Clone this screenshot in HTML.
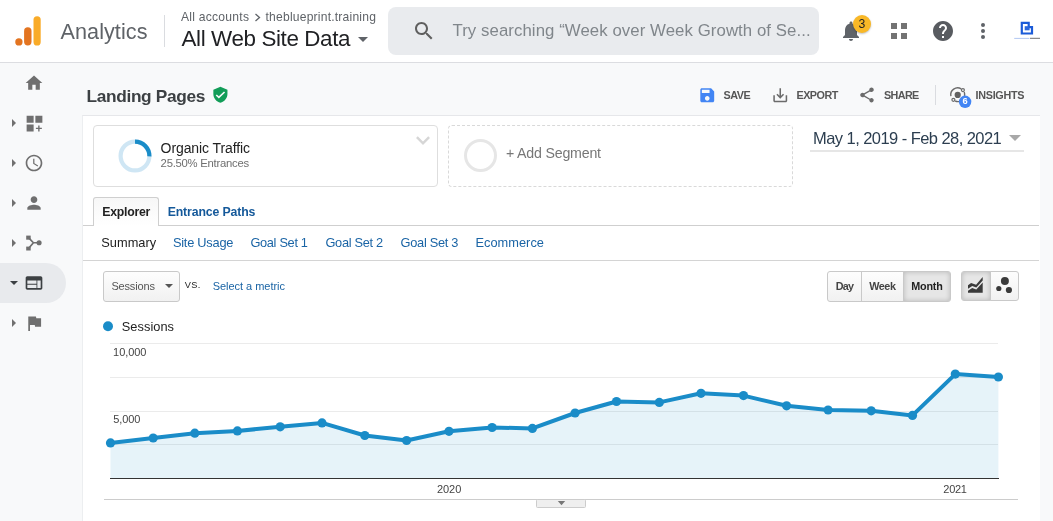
<!DOCTYPE html>
<html><head><meta charset="utf-8">
<style>
*{box-sizing:border-box;margin:0;padding:0}
html,body{width:1053px;height:521px;overflow:hidden;background:#f8f9fa;font-family:"Liberation Sans",sans-serif;}
.abs{position:absolute}
#hdr{position:absolute;left:0;top:0;width:1053px;height:63px;background:#fff;border-bottom:1px solid #dcdde1}
#main{position:absolute;left:82px;top:115px;width:957.5px;height:406px;background:#fff;border-top:1px solid #e6e7ea;border-left:1px solid #eceef0}
.t{position:absolute;white-space:nowrap;line-height:1}
.btn{position:absolute;border:1px solid #c9c9c9;background:linear-gradient(#fdfdfd,#f1f1f1)}
</style></head><body>
<div id="hdr"></div>
<svg class="abs" style="left:0;top:0" width="60" height="60" viewBox="0 0 60 60">
  <rect x="33.5" y="16.2" width="7.2" height="29.3" rx="3.6" fill="#f9ab28"/>
  <rect x="24.1" y="27.3" width="7.4" height="18.2" rx="3.7" fill="#e37420"/>
  <circle cx="18.9" cy="41.9" r="3.65" fill="#e37420"/>
</svg>
<div class="abs" style="left:164px;top:15px;width:1px;height:32px;background:#dadce0"></div>
<svg class="abs" style="left:253.5px;top:12.5px" width="8" height="9" viewBox="0 0 8 9"><path d="M1.5 1L5.5 4.5L1.5 8" stroke="#5f6368" stroke-width="1.3" fill="none"/></svg>
<div class="abs" style="left:358px;top:37px;width:0;height:0;border-left:5px solid transparent;border-right:5px solid transparent;border-top:5px solid #5f6368"></div>
<div class="abs" style="left:388px;top:7px;width:431px;height:48px;border-radius:8px;background:#e9ebee"></div>
<svg class="abs" style="left:412.4px;top:18.8px" width="24" height="24" viewBox="0 0 24 24"><path d="M15.5 14h-.79l-.28-.27C15.41 12.59 16 11.11 16 9.5 16 5.91 13.09 3 9.5 3S3 5.91 3 9.5 5.91 16 9.5 16c1.61 0 3.09-.59 4.23-1.57l.27.28v.79l5 4.99L20.49 19l-4.99-5zm-6 0C7.01 14 5 11.99 5 9.5S7.01 5 9.5 5 14 7.01 14 9.5 11.99 14 9.5 14z" fill="#5f5f5f"/></svg>
<svg class="abs" style="left:839px;top:19px" width="24" height="24" viewBox="0 0 24 24"><path d="M12 22c1.1 0 2-.9 2-2h-4c0 1.1.89 2 2 2zm6-6v-5c0-3.07-1.64-5.64-4.5-6.32V4c0-.83-.67-1.5-1.5-1.5s-1.5.67-1.5 1.5v.68C7.63 5.36 6 7.92 6 11v5l-2 2v1h16v-1l-2-2z" fill="#5f6368"/></svg>
<div class="abs" style="left:852.8px;top:14.8px;width:18.4px;height:18.4px;border-radius:50%;background:#f9b827;box-shadow:0 1px 2px rgba(0,0,0,.25)"></div>
<svg class="abs" style="left:891px;top:23px" width="16" height="16" shape-rendering="crispEdges" viewBox="0 0 16 16"><path d="M0 0h6v6H0zM10 0h6v6h-6zM0 10h6v6H0zM10 10h6v6h-6z" fill="#737373"/></svg>
<svg class="abs" style="left:931px;top:19px" width="24" height="24" viewBox="0 0 24 24"><path d="M12 2C6.48 2 2 6.48 2 12s4.48 10 10 10 10-4.48 10-10S17.52 2 12 2zm1 17h-2v-2h2v2zm2.07-7.75l-.9.92C13.45 12.9 13 13.5 13 15h-2v-.5c0-1.1.45-2.1 1.17-2.83l1.24-1.26c.37-.36.59-.86.59-1.41 0-1.1-.9-2-2-2s-2 .9-2 2H8c0-2.21 1.79-4 4-4s4 1.79 4 4c0 .88-.36 1.68-.93 2.25z" fill="#585b60"/></svg>
<svg class="abs" style="left:980px;top:22px" width="6" height="18" viewBox="0 0 6 18"><circle cx="3" cy="3" r="2" fill="#5f6368"/><circle cx="3" cy="9" r="2" fill="#5f6368"/><circle cx="3" cy="15" r="2" fill="#5f6368"/></svg>
<svg class="abs" style="left:1005px;top:12px" width="45" height="38" viewBox="1005 12 45 38"><path d="M1021.8 22.95H1028.7V27.2H1032V33.5H1021.8Z" fill="none" stroke="#1b5bd8" stroke-width="2.2"/><rect x="1024.7" y="26.2" width="4.9" height="4.1" fill="#2a66dc"/><rect x="1014.2" y="37.9" width="15.2" height="0.9" fill="#2a66dc" opacity=".4"/><rect x="1030" y="37.8" width="10" height="1" fill="#111" opacity=".6"/></svg>
<svg class="abs" style="left:24px;top:72.5px" width="20" height="20" viewBox="0 0 24 24"><path d="M10 20v-6h4v6h5v-8h3L12 3 2 12h3v8z" fill="#6f6f6f"/></svg><div class="abs" style="left:12px;top:118.8px;width:0;height:0;border-top:4.2px solid transparent;border-bottom:4.2px solid transparent;border-left:4.4px solid #707070"></div><svg class="abs" style="left:23.5px;top:112.8px" width="21" height="21" viewBox="0 0 24 24"><path d="M3 3h8v8H3zm10 0h8v8h-8zM3 13h8v8H3zm14.8 1.2h-1.6v2.6h-2.6v1.6h2.6v2.6h1.6v-2.6h2.6v-1.6h-2.6z" fill="#6f6f6f"/></svg><div class="abs" style="left:12px;top:158.8px;width:0;height:0;border-top:4.2px solid transparent;border-bottom:4.2px solid transparent;border-left:4.4px solid #707070"></div><svg class="abs" style="left:24px;top:153px" width="20" height="20" viewBox="0 0 24 24"><path d="M11.99 2C6.47 2 2 6.48 2 12s4.47 10 9.99 10C17.52 22 22 17.52 22 12S17.52 2 11.99 2zM12 20c-4.42 0-8-3.58-8-8s3.58-8 8-8 8 3.58 8 8-3.58 8-8 8zm.5-13H11v6l5.25 3.15.75-1.23-4.5-2.67z" fill="#6f6f6f"/></svg><div class="abs" style="left:12px;top:198.8px;width:0;height:0;border-top:4.2px solid transparent;border-bottom:4.2px solid transparent;border-left:4.4px solid #707070"></div><svg class="abs" style="left:24px;top:192.5px" width="20" height="20" viewBox="0 0 24 24"><path d="M12 12c2.21 0 4-1.79 4-4s-1.79-4-4-4-4 1.79-4 4 1.79 4 4 4zm0 2c-2.67 0-8 1.34-8 4v2h16v-2c0-2.66-5.33-4-8-4z" fill="#6f6f6f"/></svg><div class="abs" style="left:12px;top:238.8px;width:0;height:0;border-top:4.2px solid transparent;border-bottom:4.2px solid transparent;border-left:4.4px solid #707070"></div><svg class="abs" style="left:20px;top:230px" width="30" height="26" viewBox="20 230 30 26"><path d="M28.5 237.6L33.4 242.75L28.5 248.5M33.4 242.75H39" stroke="#6f6f6f" stroke-width="1.7" fill="none"/><rect x="26.2" y="235.6" width="4.5" height="4.1" fill="#6f6f6f"/><rect x="26.2" y="246.6" width="4.5" height="3.9" fill="#6f6f6f"/><circle cx="39.1" cy="242.75" r="2.55" fill="#6f6f6f"/></svg><div class="abs" style="left:0;top:263px;width:66px;height:40px;background:#e8eaed;border-radius:0 20px 20px 0"></div><div class="abs" style="left:9.7px;top:281.2px;width:0;height:0;border-left:4.3px solid transparent;border-right:4.3px solid transparent;border-top:4.5px solid #3c4043"></div><svg class="abs" style="left:24px;top:273px" width="20" height="20" viewBox="0 0 24 24"><path d="M20 4H4c-1.1 0-1.99.9-1.99 2L2 18c0 1.1.9 2 2 2h16c1.1 0 2-.9 2-2V6c0-1.1-.9-2-2-2zm-5 14H4v-4h11v4zm0-5H4V9h11v4zm5 5h-4V9h4v9z" fill="#3c4043"/></svg><div class="abs" style="left:12px;top:318.8px;width:0;height:0;border-top:4.2px solid transparent;border-bottom:4.2px solid transparent;border-left:4.4px solid #707070"></div><svg class="abs" style="left:23.8px;top:312.7px" width="20.5" height="20.5" viewBox="0 0 24 24"><path d="M14.4 6L14 4H5v17h2v-7h5.6l.4 2h7V6z" fill="#6f6f6f"/></svg>
<div id="main"></div>
<svg class="abs" style="left:211.2px;top:86px" width="18.8" height="17.5" viewBox="0 0 24 24" preserveAspectRatio="none"><path d="M12 1L3 5v6c0 5.55 3.84 10.74 9 12 5.16-1.26 9-6.45 9-12V5l-9-4zm-2 16l-4-4 1.41-1.41L10 14.17l6.59-6.59L18 9l-8 8z" fill="#129d58"/></svg>
<svg class="abs" style="left:697.8px;top:85.7px" width="18.5" height="18.5" viewBox="0 0 24 24"><path d="M17 3H5c-1.11 0-2 .9-2 2v14c0 1.1.89 2 2 2h14c1.1 0 2-.9 2-2V7l-4-4zm-5 16c-1.66 0-3-1.34-3-3s1.34-3 3-3 3 1.34 3 3-1.34 3-3 3zm3-10H5V5h10v4z" fill="#4285f4"/></svg>
<svg class="abs" style="left:770.7px;top:85.7px" width="18.5" height="18.5" viewBox="0 0 24 24"><path d="M19 12v7H5v-7H3v7c0 1.1.9 2 2 2h14c1.1 0 2-.9 2-2v-7h-2zm-6 .67l2.59-2.58L17 11.5l-5 5-5-5 1.41-1.41L11 12.67V3h2z" fill="#6b6b6b"/></svg>
<svg class="abs" style="left:857.9px;top:85.9px" width="18" height="18" viewBox="0 0 24 24"><path d="M18 16.08c-.76 0-1.44.3-1.96.77L8.91 12.7c.05-.23.09-.46.09-.7s-.04-.47-.09-.7l7.05-4.11c.54.5 1.25.81 2.04.81 1.66 0 3-1.34 3-3s-1.34-3-3-3-3 1.34-3 3c0 .24.04.47.09.7L8.04 9.81C7.5 9.31 6.79 9 6 9c-1.66 0-3 1.34-3 3s1.34 3 3 3c.79 0 1.5-.31 2.04-.81l7.12 4.16c-.05.21-.08.43-.08.65 0 1.61 1.31 2.92 2.92 2.92 1.61 0 2.92-1.31 2.92-2.92s-1.31-2.92-2.92-2.92z" fill="#6b6b6b"/></svg>
<div class="abs" style="left:935px;top:85px;width:1px;height:20px;background:#dadce0"></div>
<svg class="abs" style="left:940px;top:78px" width="45" height="34" viewBox="940 78 45 34"><path d="M950.9 96.2A6.9 6.9 0 0 1 961.2 88.9" fill="none" stroke="#6b6b6b" stroke-width="1.4"/><path d="M964.2 92A6.9 6.9 0 0 1 964.5 96" fill="none" stroke="#6b6b6b" stroke-width="1.4"/><path d="M955.2 101A6.9 6.9 0 0 0 960 101.3" fill="none" stroke="#6b6b6b" stroke-width="1.4"/><circle cx="957.7" cy="94.9" r="3.1" fill="#616161"/><circle cx="962.9" cy="90.1" r="1.5" fill="#f8f9fa" stroke="#6b6b6b" stroke-width="1.2"/><circle cx="953.4" cy="99.8" r="1.5" fill="#f8f9fa" stroke="#6b6b6b" stroke-width="1.2"/><circle cx="965.1" cy="101.8" r="6.2" fill="#4285f4"/></svg>

<div class="abs" style="left:93px;top:125px;width:345px;height:62px;border:1px solid #dedede;border-radius:4px;background:#fff"></div>
<svg class="abs" style="left:118px;top:139px" width="34" height="34" viewBox="0 0 34 34"><circle cx="17" cy="17" r="14.4" fill="none" stroke="#cfe6f4" stroke-width="4.2"/><path d="M17 2.6A14.4 14.4 0 0 1 31.4 17.4" fill="none" stroke="#1a8cc8" stroke-width="4.2"/></svg>
<svg class="abs" style="left:415px;top:135px" width="16" height="11" viewBox="0 0 16 11"><path d="M1.9 2.2L8 8.3L14.1 2.2" stroke="#d6d6d6" stroke-width="2.5" fill="none"/></svg>
<div class="abs" style="left:448px;top:125px;width:345px;height:62px;border:1px dashed #d9d9d9;border-radius:4px;background:#fff"></div>
<div class="abs" style="left:464.3px;top:139.3px;width:33.2px;height:33.2px;border-radius:50%;border:3.7px solid #e6e6e6"></div>
<div class="abs" style="left:810px;top:150px;width:214px;height:1.5px;background:#e6e6e6"></div>
<div class="abs" style="left:1009px;top:135px;width:0;height:0;border-left:6px solid transparent;border-right:6px solid transparent;border-top:6px solid #a8a8a8"></div>

<div class="abs" style="left:83px;top:225px;width:956px;height:1px;background:#cfcfcf"></div>
<div class="abs" style="left:93px;top:197px;width:66px;height:29px;border:1px solid #cfcfcf;border-bottom:none;border-radius:3px 3px 0 0;background:linear-gradient(#f7f7f7,#fff)"></div>
<div class="abs" style="left:83px;top:260px;width:956px;height:1px;background:#d4d4d4"></div>

<div class="btn" style="left:103px;top:271px;width:77px;height:31px;border-radius:3px"></div>
<div class="abs" style="left:164.8px;top:284px;width:0;height:0;border-left:4px solid transparent;border-right:4px solid transparent;border-top:4.4px solid #555"></div>

<div class="btn" style="left:827px;top:271px;width:35px;height:31px;border-radius:3px 0 0 3px"></div>
<div class="btn" style="left:861px;top:271px;width:43px;height:31px"></div>
<div class="btn" style="left:903px;top:271px;width:48px;height:31px;border-radius:0 3px 3px 0;background:#e6e6e6;box-shadow:inset 0 0 5px rgba(0,0,0,.2)"></div>
<div class="btn" style="left:961px;top:271px;width:30px;height:29.6px;border-radius:3px 0 0 3px;background:#e6e6e6;box-shadow:inset 0 0 5px rgba(0,0,0,.2)"></div>
<div class="btn" style="left:990px;top:271px;width:29px;height:29.6px;border-radius:0 3px 3px 0"></div>
<svg class="abs" style="left:958px;top:268px" width="64" height="36" viewBox="958 268 64 36"><path d="M968 285.3L971.1 282.9L976.1 284.8L982.7 277V280.6L976.3 287.6L972.2 286.1L968 288.8Z" fill="#3a3a3a"/><path d="M968 290.8L972.2 287.9L976.3 289.4L982.7 282.6V292.7H968Z" fill="#3a3a3a"/><circle cx="1004.9" cy="280.9" r="4" fill="#3a3a3a"/><circle cx="998.8" cy="288.5" r="2.6" fill="#3a3a3a"/><circle cx="1008.9" cy="290" r="3.1" fill="#3a3a3a"/></svg>

<svg class="abs" style="left:0;top:0" width="1053" height="521" viewBox="0 0 1053 521">
  <g stroke="#ebebeb" stroke-width="1" shape-rendering="crispEdges">
    <line x1="110" x2="998" y1="343.5" y2="343.5"/><line x1="110" x2="998" y1="377.5" y2="377.5"/><line x1="110" x2="998" y1="411.5" y2="411.5"/><line x1="110" x2="998" y1="444.5" y2="444.5"/>
  </g>
  <path d="M110.5,478 L110.5,442.9 L153.2,438.0 L194.8,433.2 L237.4,430.9 L280.2,426.8 L322.0,422.9 L364.8,435.5 L406.6,440.5 L449,431.3 L492.1,427.5 L532.4,428.4 L575.1,413.0 L616.5,401.5 L659.3,402.4 L701.0,393.3 L743.5,395.6 L786.6,405.8 L828.1,410.0 L871.2,410.8 L912.5,415.4 L955.3,374.1 L998.4,377.0 L998.4,478 Z" fill="#058dc7" fill-opacity="0.1"/>
  <line x1="110" x2="998.5" y1="478.5" y2="478.5" stroke="#333" stroke-width="1" shape-rendering="crispEdges"/>
  <polyline points="110.5,442.9 153.2,438.0 194.8,433.2 237.4,430.9 280.2,426.8 322.0,422.9 364.8,435.5 406.6,440.5 449,431.3 492.1,427.5 532.4,428.4 575.1,413.0 616.5,401.5 659.3,402.4 701.0,393.3 743.5,395.6 786.6,405.8 828.1,410.0 871.2,410.8 912.5,415.4 955.3,374.1 998.4,377.0" fill="none" stroke="#1a8cc8" stroke-width="4" stroke-linejoin="round"/>
  <g fill="#1a8cc8"><circle cx="110.5" cy="442.9" r="4.6"/><circle cx="153.2" cy="438.0" r="4.6"/><circle cx="194.8" cy="433.2" r="4.6"/><circle cx="237.4" cy="430.9" r="4.6"/><circle cx="280.2" cy="426.8" r="4.6"/><circle cx="322.0" cy="422.9" r="4.6"/><circle cx="364.8" cy="435.5" r="4.6"/><circle cx="406.6" cy="440.5" r="4.6"/><circle cx="449" cy="431.3" r="4.6"/><circle cx="492.1" cy="427.5" r="4.6"/><circle cx="532.4" cy="428.4" r="4.6"/><circle cx="575.1" cy="413.0" r="4.6"/><circle cx="616.5" cy="401.5" r="4.6"/><circle cx="659.3" cy="402.4" r="4.6"/><circle cx="701.0" cy="393.3" r="4.6"/><circle cx="743.5" cy="395.6" r="4.6"/><circle cx="786.6" cy="405.8" r="4.6"/><circle cx="828.1" cy="410.0" r="4.6"/><circle cx="871.2" cy="410.8" r="4.6"/><circle cx="912.5" cy="415.4" r="4.6"/><circle cx="955.3" cy="374.1" r="4.6"/><circle cx="998.4" cy="377.0" r="4.6"/></g>
  <circle cx="108" cy="326.2" r="5" fill="#1a8cc8"/>
  <line x1="104" x2="1018" y1="499.5" y2="499.5" stroke="#cccccc" stroke-width="1" shape-rendering="crispEdges"/>
  <rect x="536.5" y="499.5" width="49" height="8" rx="1" fill="#efefef" stroke="#cccccc" stroke-width="1"/>
  <path d="M557.8 501h7.4l-3.7 4.3z" fill="#777"/>
</svg>
<div style="position:absolute;left:0;top:0;width:1053px;height:521px;will-change:transform">
<div class="t" style="left:60.5px;top:21.2px;font-size:21.6px;color:#5f6368;letter-spacing:0.07px;">Analytics</div>
<div class="t" style="left:181.0px;top:11.2px;font-size:12.1px;color:#5f6368;letter-spacing:0.25px;">All accounts</div>
<div class="t" style="left:265.5px;top:11.2px;font-size:12.1px;color:#5f6368;letter-spacing:0.21px;">theblueprint.training</div>
<div class="t" style="left:181.5px;top:28.1px;font-size:22.4px;color:#202124;letter-spacing:-0.38px;">All Web Site Data</div>
<div class="t" style="left:452.5px;top:23.0px;font-size:16.8px;color:#80868b;letter-spacing:0.07px;">Try searching “Week over Week Growth of Se...</div>
<div class="t" style="left:858.6px;top:18.0px;font-size:12.2px;color:#202124;letter-spacing:0px;">3</div>
<div class="t" style="left:86.5px;top:87.5px;font-size:17.3px;font-weight:700;color:#3c4043;letter-spacing:-0.34px;">Landing Pages</div>
<div class="t" style="left:723.4px;top:90.3px;font-size:10.8px;font-weight:700;color:#565656;letter-spacing:-0.44px;">SAVE</div>
<div class="t" style="left:796.5px;top:90.3px;font-size:10.8px;font-weight:700;color:#565656;letter-spacing:-0.52px;">EXPORT</div>
<div class="t" style="left:884.0px;top:90.3px;font-size:10.8px;font-weight:700;color:#565656;letter-spacing:-0.62px;">SHARE</div>
<div class="t" style="left:975.5px;top:90.3px;font-size:10.8px;font-weight:700;color:#565656;letter-spacing:-0.29px;">INSIGHTS</div>
<div class="t" style="left:962.5px;top:97.1px;font-size:9.3px;font-weight:700;color:#ffffff;letter-spacing:0px;">6</div>
<div class="t" style="left:160.6px;top:141.4px;font-size:14px;color:#222222;letter-spacing:-0.1px;">Organic Traffic</div>
<div class="t" style="left:160.6px;top:157.8px;font-size:11.3px;color:#6f6f6f;letter-spacing:-0.25px;">25.50% Entrances</div>
<div class="t" style="left:506.0px;top:146.0px;font-size:14.2px;color:#777777;letter-spacing:-0.2px;">+ Add Segment</div>
<div class="t" style="left:813.0px;top:129.6px;font-size:16.5px;color:#2c3e50;letter-spacing:-0.56px;">May 1, 2019 - Feb 28, 2021</div>
<div class="t" style="left:102.3px;top:205.5px;font-size:12.3px;font-weight:700;color:#222222;letter-spacing:-0.26px;">Explorer</div>
<div class="t" style="left:167.7px;top:205.5px;font-size:12.3px;font-weight:700;color:#15599a;letter-spacing:-0.14px;">Entrance Paths</div>
<div class="t" style="left:101.3px;top:236.5px;font-size:12.8px;color:#222222;letter-spacing:0.01px;">Summary</div>
<div class="t" style="left:172.9px;top:236.5px;font-size:12.8px;color:#1a64a5;letter-spacing:-0.23px;">Site Usage</div>
<div class="t" style="left:250.4px;top:236.5px;font-size:12.8px;color:#1a64a5;letter-spacing:-0.32px;">Goal Set 1</div>
<div class="t" style="left:325.5px;top:236.5px;font-size:12.8px;color:#1a64a5;letter-spacing:-0.33px;">Goal Set 2</div>
<div class="t" style="left:400.6px;top:236.5px;font-size:12.8px;color:#1a64a5;letter-spacing:-0.29px;">Goal Set 3</div>
<div class="t" style="left:475.4px;top:236.5px;font-size:12.8px;color:#1a64a5;letter-spacing:0.04px;">Ecommerce</div>
<div class="t" style="left:111.4px;top:280.7px;font-size:11px;color:#555555;letter-spacing:-0.16px;">Sessions</div>
<div class="t" style="left:184.8px;top:281.2px;font-size:9.2px;color:#222222;letter-spacing:0.34px;">VS.</div>
<div class="t" style="left:212.7px;top:280.7px;font-size:11px;color:#1a64a5;letter-spacing:-0.03px;">Select a metric</div>
<div class="t" style="left:835.8px;top:280.9px;font-size:10.8px;font-weight:700;color:#444444;letter-spacing:-0.86px;">Day</div>
<div class="t" style="left:869.2px;top:280.9px;font-size:10.8px;font-weight:700;color:#444444;letter-spacing:-0.41px;">Week</div>
<div class="t" style="left:911.3px;top:280.9px;font-size:10.8px;font-weight:700;color:#222222;letter-spacing:-0.22px;">Month</div>
<div class="t" style="left:121.8px;top:320.8px;font-size:12.8px;color:#222222;letter-spacing:0.04px;">Sessions</div>
<div class="t" style="left:113.1px;top:347.1px;font-size:11px;color:#444444;letter-spacing:-0.05px;">10,000</div>
<div class="t" style="left:113.2px;top:414.1px;font-size:11px;color:#444444;letter-spacing:-0.11px;">5,000</div>
<div class="t" style="left:437.0px;top:483.5px;font-size:11px;color:#444444;letter-spacing:-0.06px;">2020</div>
<div class="t" style="left:943.3px;top:483.5px;font-size:11px;color:#444444;letter-spacing:-0.26px;">2021</div>
</div>
</body></html>
